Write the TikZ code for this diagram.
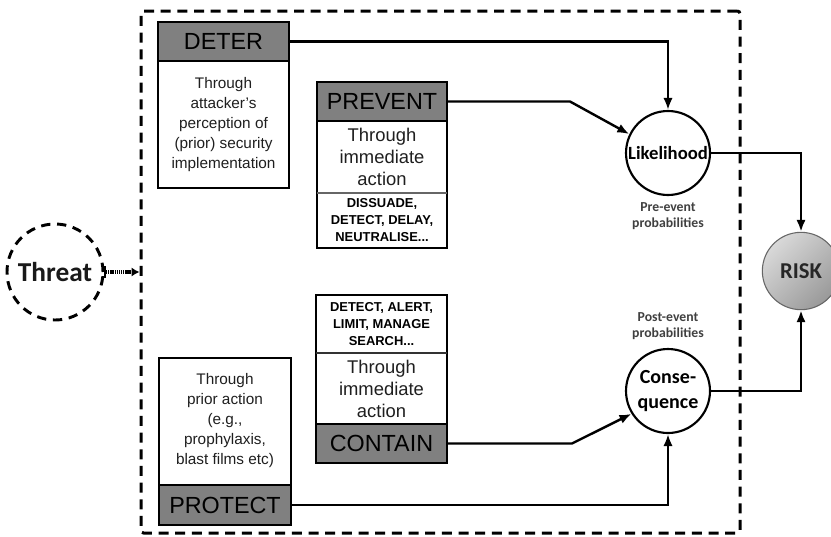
\documentclass[tikz,border=0pt]{standalone}
\usepackage{fontspec}
\setmainfont{Liberation Sans}
\newfontfamily\calib{Carlito}
\usetikzlibrary{arrows.meta,shapes.geometric}
\begin{document}
\begin{tikzpicture}[x=0.75pt,y=-0.75pt,
  outerbox/.style={draw=black, fill=white, line width=1.5pt, inner sep=0pt, rectangle},
  hdr/.style={draw=black, fill=gray, line width=1.5pt, inner sep=0pt, rectangle, text=black, font=\fontsize{17.5}{20}\selectfont},
  bodytxt/.style={inner sep=0pt, align=center, text=black!88, font=\fontsize{11.5}{15}\selectfont},
  bigtxt/.style={inner sep=0pt, align=center, text=black!88, font=\fontsize{13.8}{16.5}\selectfont},
  boldtxt/.style={inner sep=0pt, align=center, text=black, font=\bfseries\fontsize{9.7}{12.75}\selectfont},
  divider/.style={draw=black!60, line width=0.8pt},
  conn/.style={draw=black, line width=1.8pt, -{Latex[length=9pt,width=7pt]}},
  outcircle/.style={circle, draw=black, line width=1.6pt, fill=white, minimum size=63pt, inner sep=0pt, align=center, font=\calib\bfseries\fontsize{14}{18.5}\selectfont},
  probtxt/.style={inner sep=0pt, align=center, text=black!75, font=\calib\bfseries\fontsize{10.3}{12}\selectfont}
]
\path[use as bounding box, fill=white] (0,0) rectangle (831,536);

% dashed frame
\node[draw=black, line width=2.25pt, dash pattern=on 7.5pt off 5pt, rounded corners=2pt,
      minimum width=449.25pt, minimum height=391.5pt, inner sep=0pt] (frame) at (440.5,272) {};

% DETER
\node[outerbox, minimum width=98.25pt, minimum height=124.5pt] (deter) at (223.5,105) {};
\node[hdr, minimum width=98.25pt, minimum height=29.25pt] (deterh) at (223.5,41.5) {DETER};
\node[bodytxt] (deterb) at (223.5,125) {Through\\attacker's\\perception of\\(prior) security\\implementation};

% PREVENT
\node[outerbox, minimum width=97.5pt, minimum height=124.5pt] (prevent) at (382,165) {};
\node[hdr, minimum width=97.5pt, minimum height=29.25pt] (preventh) at (382,101.5) {PREVENT};
\node[bigtxt] (preventm) at (382,157) {Through\\immediate\\action};
\draw[divider] (317,193) -- (447,193);
\node[boldtxt] (preventb) at (382,220.5) {DISSUADE,\\DETECT, DELAY,\\NEUTRALISE...};

% CONTAIN
\node[outerbox, minimum width=98.25pt, minimum height=126pt] (contain) at (381.5,379) {};
\node[hdr, minimum width=98.25pt, minimum height=29.25pt] (containh) at (381.5,443.5) {CONTAIN};
\node[boldtxt] (containt) at (381.5,324) {DETECT, ALERT,\\LIMIT, MANAGE\\SEARCH...};
\draw[divider, draw=black!80] (316,353) -- (447,353);
\node[bigtxt] (containm) at (381.5,388.5) {Through\\immediate\\action};

% PROTECT
\node[outerbox, minimum width=99pt, minimum height=125.25pt] (protect) at (225,441.5) {};
\node[hdr, minimum width=99pt, minimum height=30pt] (protecth) at (225,505) {PROTECT};
\node[bodytxt] (protectb) at (225,421) {Through\\prior action\\(e.g.,\\prophylaxis,\\blast films etc)};

% circles
\node[outcircle] (like) at (668,153) {Likelihood};
\node[probtxt] (pre) at (668,216) {Pre-event\\probabilities};
\node[outcircle, font=\calib\bfseries\fontsize{15}{19}\selectfont] (cons) at (668,391) {Conse-\\quence};
\node[probtxt] (post) at (668,326) {Post-event\\probabilities};

\node[circle, draw=black!60, line width=0.8pt, minimum size=58pt, inner sep=0pt,
      shading=axis, left color=gray!30, right color=gray!80, shading angle=45,
      font=\calib\bfseries\fontsize{17}{20}\selectfont, text=black!85] (risk) at (801,271) {RISK};

% threat
\node[circle, draw=black, line width=2.2pt, dash pattern=on 7pt off 5pt, minimum size=72pt, inner sep=0pt,
      font=\calib\bfseries\fontsize{20.5}{24}\selectfont, text=black!90] (threat) at (55,272) {Threat};

% connectors
\draw[conn] (deterh.east) -| (like.north);
\coordinate (pbend) at (570,101.5);
\draw[conn] (preventh.east) -- (pbend) -- (like.154);
\draw[conn] (like.east) -| (risk.north);
\coordinate (cbend) at (572,443.5);
\draw[conn] (containh.east) -- (cbend) -- (cons.212);
\draw[conn] (protecth.east) -| (cons.south);
\draw[conn] (cons.east) -| (risk.south);
\draw[line width=2.6pt, dash pattern=on 1pt off 0.6pt, {Bar[width=9pt,line width=1.5pt]}-{Latex[length=6pt,width=7pt]}]
  (threat.east) -- (frame.west);
\end{tikzpicture}
\end{document}
